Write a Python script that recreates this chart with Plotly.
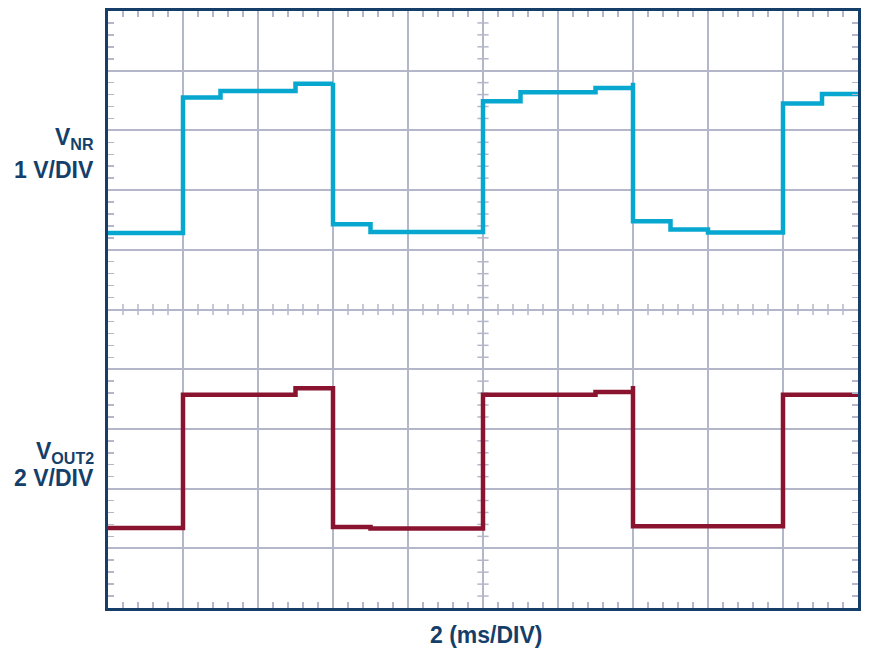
import plotly.graph_objects as go

# time in ms (2 ms/DIV), levels in screen divisions (0 = bottom, 10 = top)
t_nr = [0, 2, 3, 5, 6, 6, 7, 10, 11, 13, 14, 14, 15, 16, 18, 19.04, 20]
v_nr = [6.28, 8.55, 8.66, 8.78, 8.80, 6.43, 6.30, 8.49, 8.64, 8.71, 8.80, 6.48, 6.34, 6.29, 8.45, 8.61, 8.61]

t_out = [0, 2, 5, 6, 7, 10, 13, 14, 14, 18, 20]
v_out = [1.34, 3.57, 3.68, 1.355, 1.333, 3.57, 3.62, 3.72, 1.37, 3.57, 3.57]

label_nr = ["V<sub>NR</sub>", "1 V/DIV"]
label_out = ["V<sub>OUT2</sub>", "2 V/DIV"]
x_title = "2 (ms/DIV)"

BLUE = "#07a7d0"
RED = "#8a1430"
NAVY = "#153f69"
GRID = "#b4b7c9"
FONT = "Liberation Sans, Arial, sans-serif"

X_MAX, Y_MAX = 20, 10
X_DIV, Y_DIV = 2, 1
X_MINOR, Y_MINOR = X_DIV / 5, Y_DIV / 5

fig = go.Figure()

# centre-line cross ticks
cx, cy = X_MAX / 2, Y_MAX / 2
ys = [k * Y_MINOR for k in range(1, 50) if k % 5 != 0]
xs = [k * X_MINOR for k in range(1, 50) if k % 5 != 0]
fig.add_trace(go.Scatter(x=[cx] * len(ys), y=ys, mode="markers",
                         marker=dict(symbol="line-ew", size=8, line=dict(width=1.5, color=GRID)),
                         hoverinfo="skip", showlegend=False))
fig.add_trace(go.Scatter(x=xs, y=[cy] * len(xs), mode="markers",
                         marker=dict(symbol="line-ns", size=8, line=dict(width=1.5, color=GRID)),
                         hoverinfo="skip", showlegend=False))

fig.add_trace(go.Scatter(x=t_nr, y=v_nr, mode="lines", line=dict(shape="hv", color=BLUE, width=4.5),
                         showlegend=False))
fig.add_trace(go.Scatter(x=t_out, y=v_out, mode="lines", line=dict(shape="hv", color=RED, width=4.5),
                         showlegend=False))

axis_common = dict(showline=True, linewidth=3, linecolor=NAVY, mirror="ticks",
                   showgrid=True, gridcolor=GRID, gridwidth=2, zeroline=False,
                   ticks="", showticklabels=False, fixedrange=True)
fig.update_xaxes(range=[0, X_MAX], dtick=X_DIV, tick0=0,
                 minor=dict(ticks="inside", ticklen=6, tickwidth=1.5, tickcolor=GRID,
                            dtick=X_MINOR, tick0=0, showgrid=False),
                 **axis_common)
fig.update_yaxes(range=[0, Y_MAX], dtick=Y_DIV, tick0=0,
                 minor=dict(ticks="inside", ticklen=6, tickwidth=1.5, tickcolor=GRID,
                            dtick=Y_MINOR, tick0=0, showgrid=False),
                 **axis_common)

txt_font = dict(family=FONT, size=23, color=NAVY)
ann = []
for (lab, yv) in [(label_nr[0], 7.86), (label_nr[1], 7.33), (label_out[0], 2.6), (label_out[1], 2.17)]:
    ann.append(dict(text="<b>" + lab + "</b>", xref="paper", yref="y", x=0, y=yv,
                    xanchor="right", yanchor="middle", xshift=-12, showarrow=False,
                    align="right", font=txt_font))
ann.append(dict(text="<b>" + x_title + "</b>", xref="paper", yref="paper", x=0.5, y=0,
                xanchor="center", yanchor="top", yshift=-12, xshift=3, showarrow=False, font=txt_font))

fig.update_layout(width=871, height=655, margin=dict(l=108, r=13, t=8, b=47),
                  paper_bgcolor="white", plot_bgcolor="white", annotations=ann)

fig.write_html("out.html", config={"displayModeBar": False, "staticPlot": True},
               post_script="document.body.style.margin='0px';document.body.style.overflow='hidden';")
